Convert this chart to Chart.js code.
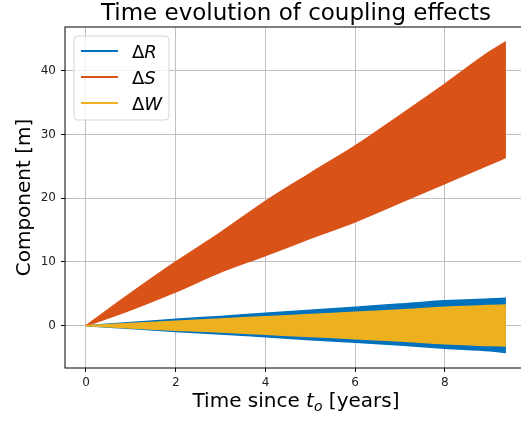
<!DOCTYPE html>
<html>
<head>
<meta charset="utf-8">
<script src="https://cdn.jsdelivr.net/npm/chart.js@4/dist/chart.umd.min.js"></script>
<style>
  html, body { margin: 0; padding: 0; background: #fff; overflow: hidden; }
  #wrap { width: 521px; height: 421px; overflow: hidden; }
</style>
</head>
<body>
<div id="wrap"><canvas id="coupling" width="540" height="421"></canvas></div>
<script>
// sample times (years) and band envelopes (m)
const years = [0, 1, 2, 3, 4, 5, 6, 7, 8, 9, 9.36];
const dRHigh = [0, 0.5, 1.0, 1.45, 1.95, 2.4, 2.9, 3.4, 3.9, 4.2, 4.3];
const dRLow = [0, -0.45, -0.9, -1.3, -1.75, -2.2, -2.6, -3.05, -3.55, -3.95, -4.2];
const dSHigh = [0, 5.1, 10.0, 14.6, 19.5, 23.9, 28.2, 33.0, 37.9, 43.0, 44.5];
const dSLow = [0, 2.5, 5.3, 8.4, 11.0, 13.7, 16.3, 19.3, 22.3, 25.3, 26.4];
const dWHigh = [0, 0.35, 0.7, 1.05, 1.4, 1.75, 2.1, 2.45, 2.9, 3.15, 3.25];
const dWLow = [0, -0.35, -0.7, -1.0, -1.35, -1.7, -2.05, -2.4, -2.85, -3.1, -3.2];
const xTicks = [0, 2, 4, 6, 8];
const yTicks = [0, 10, 20, 30, 40];

const blue = "#0072BD", red = "#D95319", yellow = "#EDB120";
const pts = arr => years.map((t, i) => ({ x: t, y: arr[i] }));

function band(color, high, low, idx, order, name) {
    const common = {
        borderColor: color,
        backgroundColor: color,
        borderWidth: 1.5,
        pointRadius: 0,
        cubicInterpolationMode: "monotone",
        order: order
    };
    return [
        { ...common, label: name, data: pts(high), fill: { target: idx + 1 } },
        { ...common, label: "", data: pts(low), fill: false }
    ];
}

// title, axis labels, frame and legend
const decor = {
    id: "decor",
    afterDraw(chart) {
        const ctx = chart.ctx, a = chart.chartArea;
        ctx.save();
        ctx.strokeStyle = "#000";
        ctx.lineWidth = 1;
        ctx.strokeRect(a.left, a.top, a.right - a.left, a.bottom - a.top);

        const cx = (a.left + a.right) / 2;
        ctx.fillStyle = "#000";
        ctx.textBaseline = "alphabetic";
        ctx.textAlign = "center";
        ctx.font = "23px 'DejaVu Sans'";
        ctx.fillText("Time evolution of coupling effects", cx, 20);

        // x label with subscript
        const parts = [
            ["Time since ", "20px 'DejaVu Sans'", 0],
            ["t", "italic 20px 'DejaVu Sans'", 0],
            ["o", "italic 14px 'DejaVu Sans'", 4],
            [" [years]", "20px 'DejaVu Sans'", 0]
        ];
        let w = 0;
        parts.forEach(p => { ctx.font = p[1]; w += ctx.measureText(p[0]).width; });
        let x = cx - w / 2;
        ctx.textAlign = "left";
        parts.forEach(p => {
            ctx.font = p[1];
            ctx.fillText(p[0], x, 407 + p[2]);
            x += ctx.measureText(p[0]).width;
        });

        ctx.save();
        ctx.translate(30, (a.top + a.bottom) / 2);
        ctx.rotate(-Math.PI / 2);
        ctx.textAlign = "center";
        ctx.font = "20px 'DejaVu Sans'";
        ctx.fillText("Component [m]", 0, 0);
        ctx.restore();

        // legend
        const lx = 74, ly = 36, lw = 95, lh = 84, r = 4;
        ctx.beginPath();
        ctx.moveTo(lx + r, ly);
        ctx.arcTo(lx + lw, ly, lx + lw, ly + lh, r);
        ctx.arcTo(lx + lw, ly + lh, lx, ly + lh, r);
        ctx.arcTo(lx, ly + lh, lx, ly, r);
        ctx.arcTo(lx, ly, lx + lw, ly, r);
        ctx.closePath();
        ctx.fillStyle = "rgba(255,255,255,0.8)";
        ctx.fill();
        ctx.strokeStyle = "#d6d6d6";
        ctx.stroke();

        const items = [[blue, "R"], [red, "S"], [yellow, "W"]];
        items.forEach((it, i) => {
            const y = 51 + 26 * i;
            ctx.strokeStyle = it[0];
            ctx.lineWidth = 2;
            ctx.beginPath();
            ctx.moveTo(81, y);
            ctx.lineTo(118, y);
            ctx.stroke();
            ctx.fillStyle = "#000";
            ctx.font = "18px 'DejaVu Sans'";
            ctx.fillText("\u0394", 132, y + 6.5);
            const dw = ctx.measureText("\u0394").width;
            ctx.font = "italic 18px 'DejaVu Sans'";
            ctx.fillText(it[1], 132 + dw, y + 6.5);
        });
        ctx.restore();
    }
};

new Chart("coupling", {
    type: "line",
    data: {
        datasets: [
            ...band(blue, dRHigh, dRLow, 0, 3, "\u0394R"),
            ...band(red, dSHigh, dSLow, 2, 2, "\u0394S"),
            ...band(yellow, dWHigh, dWLow, 4, 1, "\u0394W")
        ]
    },
    options: {
        responsive: false,
        animation: false,
        layout: { autoPadding: false, padding: { top: 27, right: 13, left: 0, bottom: 0 } },
        plugins: {
            legend: { display: false },
            tooltip: { enabled: false }
        },
        scales: {
            x: {
                type: "linear",
                min: -0.468,
                max: 9.83,
                afterFit: s => { s.height = 53; s.paddingLeft = 0; s.paddingRight = 0; },
                afterBuildTicks: s => { s.ticks = xTicks.map(v => ({ value: v })); },
                grid: { color: "#c0c0c0", lineWidth: 1, tickColor: "#000", tickLength: 4 },
                border: { display: false },
                ticks: { color: "#222", padding: 4, maxRotation: 0, font: { family: "DejaVu Sans", size: 12 } }
            },
            y: {
                min: -6.64,
                max: 46.85,
                afterFit: s => { s.width = 65; s.paddingTop = 0; s.paddingBottom = 0; },
                afterBuildTicks: s => { s.ticks = yTicks.map(v => ({ value: v })); },
                grid: { color: "#c0c0c0", lineWidth: 1, tickColor: "#000", tickLength: 4 },
                border: { display: false },
                ticks: { color: "#222", padding: 5, font: { family: "DejaVu Sans", size: 12 } }
            }
        }
    },
    plugins: [decor]
});
</script>
</body>
</html>
